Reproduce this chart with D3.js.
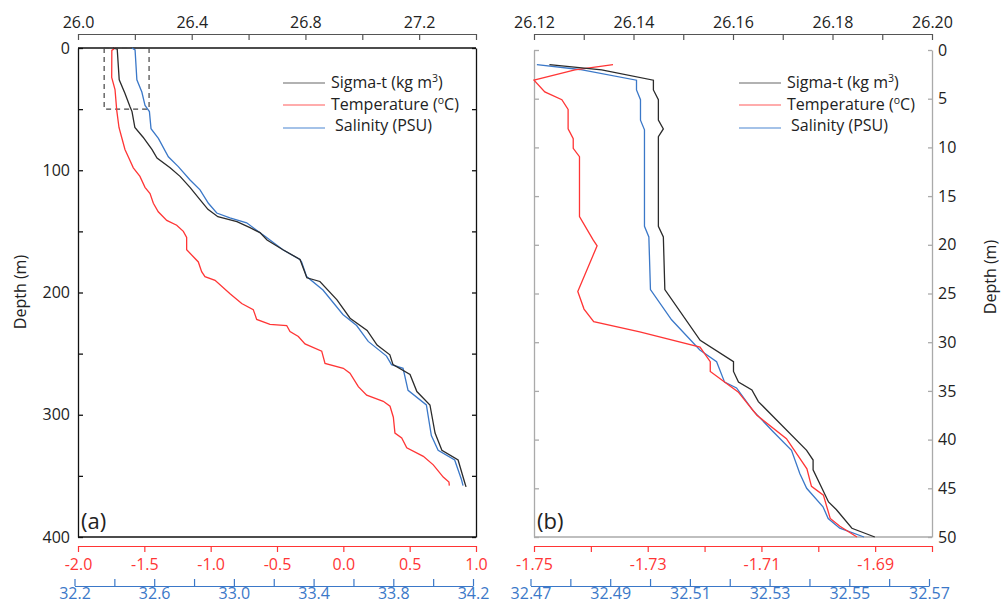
<!DOCTYPE html>
<html>
<head>
<meta charset="utf-8">
<script src="https://cdn.jsdelivr.net/npm/d3@7"></script>
<style>
  body { margin: 0; background: #fff; }
  svg { font-family: "Open Sans", "Noto Sans", sans-serif; }
</style>
</head>
<body>
<div id="chart"></div>
<script>
// profile data: [depth (m), value]
var aSigma = [[0,26.123],[1,26.138],[26,26.145],[37,26.165],[48,26.183],[52,26.19],[65,26.2],[73,26.229],[83,26.26],[90,26.278],[98,26.324],[105,26.359],[114,26.394],[124,26.429],[132,26.457],[138,26.492],[142,26.559],[147,26.605],[151,26.64],[157,26.665],[165,26.721],[173,26.781],[188,26.805],[191,26.851],[206,26.911],[221,26.957],[231,27.017],[243,27.052],[251,27.097],[259,27.108],[267,27.168],[281,27.192],[292,27.238],[315,27.256],[329,27.28],[337,27.337],[356,27.361],[359,27.365]];
var aTemp = [[0,-1.72],[2,-1.745],[24,-1.746],[34,-1.721],[51,-1.708],[65,-1.691],[73,-1.671],[83,-1.646],[89,-1.621],[98,-1.583],[105,-1.533],[114,-1.495],[119,-1.457],[127,-1.432],[134,-1.395],[141,-1.331],[145,-1.256],[150,-1.206],[155,-1.181],[165,-1.181],[175,-1.093],[183,-1.068],[187,-1.043],[190,-0.967],[201,-0.854],[209,-0.766],[214,-0.679],[222,-0.653],[226,-0.553],[227,-0.427],[232,-0.402],[236,-0.339],[242,-0.289],[248,-0.163],[258,-0.138],[262,0.0],[266,0.05],[277,0.113],[284,0.176],[288,0.276],[289,0.301],[293,0.352],[302,0.377],[315,0.389],[319,0.44],[327,0.478],[334,0.603],[341,0.678],[351,0.753],[355,0.796],[358,0.799]];
var aSal = [[0,32.488],[1.6,32.504],[26,32.513],[36,32.538],[47,32.554],[52,32.576],[66,32.584],[74,32.621],[89,32.671],[97,32.721],[108,32.78],[116,32.83],[127,32.872],[135,32.914],[139,32.98],[143,33.064],[149,33.114],[154,33.156],[165,33.246],[173,33.331],[175,33.34],[187,33.365],[198,33.447],[218,33.547],[227,33.616],[240,33.674],[252,33.766],[259,33.791],[262,33.849],[280,33.874],[292,33.966],[317,33.991],[329,34.025],[337,34.108],[353,34.142],[358,34.15]];

var bSigma = [[1.5,26.1231],[2.05,26.1336],[3.1,26.144],[4.1,26.144],[5.1,26.145],[7.2,26.145],[8.1,26.146],[8.9,26.145],[18.1,26.145],[19.2,26.146],[24.6,26.1463],[29.8,26.1534],[32,26.1601],[33,26.1601],[34.1,26.1611],[34.9,26.1638],[36.1,26.1651],[41.1,26.1748],[42.1,26.1761],[43.1,26.1761],[46.4,26.1792],[47.2,26.1808],[49.1,26.1839],[50,26.1885]];
var bTemp = [[1.5,-1.7361],[2.05,-1.7428],[3.1,-1.75],[4.3,-1.7481],[5.1,-1.7451],[6.1,-1.744],[8.1,-1.744],[9.1,-1.7431],[10.1,-1.7431],[10.95,-1.742],[17.1,-1.742],[19.5,-1.7396],[20.1,-1.7389],[24.8,-1.7423],[26.6,-1.7412],[27.9,-1.7395],[28.95,-1.7314],[30.5,-1.7208],[32,-1.719],[33,-1.719],[35.1,-1.7141],[37.5,-1.7108],[39.9,-1.7056],[43,-1.702],[44.8,-1.7012],[45.7,-1.6991],[48.1,-1.6979],[48.9,-1.6962],[50,-1.6932]];
var bSal = [[1.5,32.4716],[2,32.4823],[3.1,32.4966],[4.1,32.4966],[5.1,32.4976],[7.2,32.4976],[8.2,32.4986],[18.1,32.4986],[19.2,32.4997],[24.6,32.5001],[27.7,32.5054],[30.8,32.5125],[32,32.5167],[34.1,32.5187],[34.7,32.5217],[37,32.5258],[39.2,32.5309],[41.1,32.5355],[43.5,32.5376],[45,32.5393],[46.9,32.5434],[48.1,32.5447],[49.1,32.5476],[50,32.5537]];

// tick values and labels
var aSigmaTicks = [26.0,26.2,26.4,26.6,26.8,27.0,27.2,27.4];
var aSigmaLabels = ["26.0","","26.4","","26.8","","27.2",""];
var aTempTicks = [-2.0,-1.5,-1.0,-0.5,0.0,0.5,1.0];
var aTempLabels = ["-2.0","-1.5","-1.0","-0.5","0.0","0.5","1.0"];
var aSalTicks = [32.2,32.4,32.6,32.8,33.0,33.2,33.4,33.6,33.8,34.0,34.2];
var aSalLabels = ["32.2","","32.6","","33.0","","33.4","","33.8","","34.2"];
var aDepthTicks = [0,50,100,150,200,250,300,350,400];
var aDepthLabels = ["0","","100","","200","","300","","400"];

var bSigmaTicks = [26.12,26.13,26.14,26.15,26.16,26.17,26.18,26.19,26.20];
var bSigmaLabels = ["26.12","","26.14","","26.16","","26.18","","26.20"];
var bTempTicks = [-1.75,-1.74,-1.73,-1.72,-1.71,-1.70,-1.69,-1.68];
var bTempLabels = ["-1.75","","-1.73","","-1.71","","-1.69",""];
var bSalTicks = [32.47,32.48,32.49,32.50,32.51,32.52,32.53,32.54,32.55,32.56,32.57];
var bSalLabels = ["32.47","","32.49","","32.51","","32.53","","32.55","","32.57"];
var bDepthTicks = [0,5,10,15,20,25,30,35,40,45,50];
var bDepthLabels = ["0","5","10","15","20","25","30","35","40","45","50"];

var seriesNames = ["Sigma-t (kg m", "Temperature (", "Salinity (PSU)"];

var colBlack = "#2b2b2b", colRed = "#ff3535", colBlue = "#3b78c8";
var fontFam = "'Open Sans', 'Noto Sans', sans-serif";

var svg = d3.select("#chart").append("svg")
    .attr("width", 1005)
    .attr("height", 604);

function labeler(ticks, labels) {
  return function(d) { return labels[ticks.indexOf(d)]; };
}

function styleAxis(ax, col, textCol) {
  ax.attr("font-family", fontFam).attr("font-size", 16);
  ax.selectAll("path, line").attr("stroke", col).attr("stroke-width", 1.2);
  ax.selectAll("text").style("font-family", fontFam).style("font-size", "16px").style("fill", textCol);
}

function drawPanel(p) {
  var g = svg.append("g");
  var y = d3.scaleLinear().domain(p.depthDomain).range([p.top, 537]);
  var xs = d3.scaleLinear().domain(p.sigmaDomain).range([p.left, p.right]);
  var xt = d3.scaleLinear().domain(p.tempDomain).range([p.left, p.right]);
  var xb = d3.scaleLinear().domain(p.salDomain).range([p.left - 3.5, p.right - 3]);

  // top sigma axis
  var top = g.append("g")
    .attr("transform", "translate(0,34)")
    .call(d3.axisTop(xs).tickValues(p.sigmaTicks).tickFormat(labeler(p.sigmaTicks, p.sigmaLabels))
      .tickSize(-6).tickSizeOuter(0).tickPadding(6));
  styleAxis(top, "#555", "#222");

  // bottom temperature axis
  var bt = g.append("g")
    .attr("transform", "translate(0,546)")
    .call(d3.axisBottom(xt).tickValues(p.tempTicks).tickFormat(labeler(p.tempTicks, p.tempLabels))
      .tickSize(6).tickSizeOuter(0).tickPadding(7));
  styleAxis(bt, colRed, colRed);

  // bottom salinity axis
  var bs = g.append("g")
    .attr("transform", "translate(0,586)")
    .call(d3.axisBottom(xb).tickValues(p.salTicks).tickFormat(labeler(p.salTicks, p.salLabels))
      .tickSize(-7).tickSizeOuter(0).tickPadding(2));
  styleAxis(bs, colBlue, colBlue);

  // depth axes
  var la = g.append("g")
    .attr("transform", "translate(" + p.left + ",0)")
    .call(d3.axisLeft(y).tickValues(p.depthTicks)
      .tickFormat(p.labelsLeft ? labeler(p.depthTicks, p.depthLabels) : "")
      .tickSize(-5).tickSizeOuter(0).tickPadding(8));
  var ra = g.append("g")
    .attr("transform", "translate(" + p.right + ",0)")
    .call(d3.axisRight(y).tickValues(p.depthTicks)
      .tickFormat(p.labelsLeft ? "" : labeler(p.depthTicks, p.depthLabels))
      .tickSize(-4).tickSizeOuter(0).tickPadding(6));
  styleAxis(la, p.boxColor, "#222");
  styleAxis(ra, p.boxColor, "#222");
  la.selectAll("path, line").attr("stroke-width", 1.3);
  ra.selectAll("path, line").attr("stroke-width", 1.3);

  // box top / bottom
  if (p.topLine) {
    g.append("line").attr("x1", p.left).attr("x2", p.right)
      .attr("y1", p.top).attr("y2", p.top)
      .attr("stroke", p.boxColor).attr("stroke-width", 1.3);
  }
  g.append("line").attr("x1", p.left).attr("x2", p.right)
    .attr("y1", 537).attr("y2", 537)
    .attr("stroke", p.boxColor).attr("stroke-width", 1.3);

  // "Depth (m)"
  g.append("text")
    .attr("transform", "translate(" + p.depthLabelX + "," + p.depthLabelY + ") rotate(-90)")
    .attr("text-anchor", "middle")
    .style("font-size", "16px").style("fill", "#222")
    .text("Depth (m)");

  // zoom box
  if (p.zoomBox) {
    g.append("rect")
      .attr("x", xs(p.zoomBox[0])).attr("y", y(p.zoomBox[2]))
      .attr("width", xs(p.zoomBox[1]) - xs(p.zoomBox[0]))
      .attr("height", y(p.zoomBox[3]) - y(p.zoomBox[2]))
      .attr("fill", "none").attr("stroke", "#444")
      .attr("stroke-width", 1.2).attr("stroke-dasharray", "5,4");
  }

  // profiles
  var line = function(sx) {
    return d3.line().x(function(d) { return sx(d[1]); }).y(function(d) { return y(d[0]); });
  };
  g.append("path").datum(p.sal).attr("d", line(xb))
    .attr("fill", "none").attr("stroke", colBlue).attr("stroke-width", 1.3);
  g.append("path").datum(p.temp).attr("d", line(xt))
    .attr("fill", "none").attr("stroke", colRed).attr("stroke-width", 1.3);
  g.append("path").datum(p.sigma).attr("d", line(xs))
    .attr("fill", "none").attr("stroke", colBlack).attr("stroke-width", 1.3);

  // legend
  var legCols = ["#666", "#ff5a5a", "#4a86d2"];
  var legLineY = [83, 105, 128];
  var legTextY = [88, 110, 131];
  var leg = g.append("g");
  legLineY.forEach(function(ly, i) {
    leg.append("line").attr("x1", p.legX).attr("x2", p.legX + 42)
      .attr("y1", ly).attr("y2", ly)
      .attr("stroke", legCols[i]).attr("stroke-width", 1.1);
    var t = leg.append("text").attr("x", p.legX + 48 + (i == 2 ? 4 : 0)).attr("y", legTextY[i])
      .style("font-size", "16px").style("fill", "#222");
    t.append("tspan").text(seriesNames[i]);
    if (i == 0) {
      t.append("tspan").attr("dy", -6).style("font-size", "10.5px").text("3");
      t.append("tspan").attr("dy", 6).text(")");
    } else if (i == 1) {
      t.append("tspan").attr("dy", -6).style("font-size", "10.5px").text("o");
      t.append("tspan").attr("dy", 6).text("C)");
    }
  });

  // panel label
  g.append("text").attr("x", p.left + 3).attr("y", 529)
    .style("font-size", "22px").style("fill", "#222")
    .text(p.label);
}

drawPanel({
  left: 78, right: 476, top: 48,
  depthDomain: [0, 400],
  sigmaDomain: [26.0, 27.4], tempDomain: [-2.0, 1.0], salDomain: [32.2, 34.2],
  sigmaTicks: aSigmaTicks, sigmaLabels: aSigmaLabels,
  tempTicks: aTempTicks, tempLabels: aTempLabels,
  salTicks: aSalTicks, salLabels: aSalLabels,
  depthTicks: aDepthTicks, depthLabels: aDepthLabels,
  labelsLeft: true, boxColor: "#111", topLine: true,
  depthLabelX: 26, depthLabelY: 292,
  zoomBox: [26.092, 26.25, 0, 50],
  sigma: aSigma, temp: aTemp, sal: aSal,
  legX: 283, label: "(a)"
});

drawPanel({
  left: 534, right: 932, top: 50,
  depthDomain: [0, 50],
  sigmaDomain: [26.12, 26.20], tempDomain: [-1.75, -1.68], salDomain: [32.47, 32.57],
  sigmaTicks: bSigmaTicks, sigmaLabels: bSigmaLabels,
  tempTicks: bTempTicks, tempLabels: bTempLabels,
  salTicks: bSalTicks, salLabels: bSalLabels,
  depthTicks: bDepthTicks, depthLabels: bDepthLabels,
  labelsLeft: false, boxColor: "#aaa", topLine: false,
  depthLabelX: 996, depthLabelY: 277,
  zoomBox: null,
  sigma: bSigma, temp: bTemp, sal: bSal,
  legX: 739, label: "(b)"
});
</script>
</body>
</html>
